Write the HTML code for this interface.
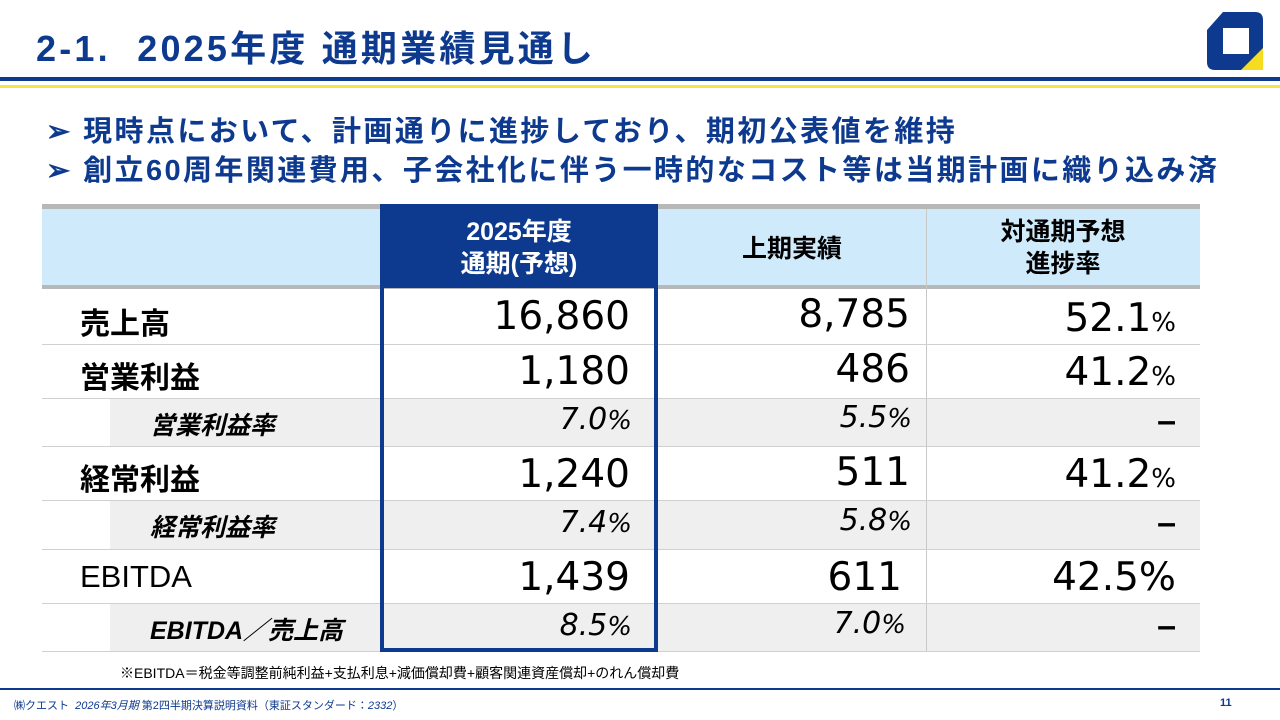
<!DOCTYPE html>
<html><head><meta charset="utf-8"><style>
body{margin:0;width:1280px;height:720px;position:relative;background:#fff;font-family:"Liberation Sans","Noto Sans CJK JP",sans-serif;overflow:hidden}
.a{position:absolute}
.title{left:36px;top:20px;font-size:36px;font-weight:bold;color:#0d3a8e;letter-spacing:3.2px;white-space:nowrap}
.bul{left:46px;font-size:29px;font-weight:bold;color:#0d3a8e;white-space:nowrap;letter-spacing:2.4px}
.hd{font-size:25px;font-weight:bold;text-align:center;line-height:32px}
.lbl{font-size:30px;font-weight:bold;color:#000;left:80px}
.sub{font-size:25px;font-style:italic;font-weight:bold;color:#000;left:150px}
.v{font-family:"DejaVu Sans","Liberation Sans",sans-serif;font-size:39px;color:#000;text-align:right}
.sv{font-family:"DejaVu Sans","Liberation Sans",sans-serif;font-size:30px;font-style:italic;color:#000;text-align:right}
.pc{font-size:26px}
.dash{font-family:"Liberation Sans",sans-serif;font-size:34px;font-weight:bold;text-align:right;color:#000}
.hl{left:42px;width:1158px;height:1px;background:#d0d0d0}
</style></head><body>
<div class="a title">2-1.&nbsp; 2025年度 通期業績見通し</div>
<svg class="a" style="left:1205px;top:10px" width="62" height="62">
<path d="M18 2 H50 Q58 2 58 10 V42 L42 60 H10 Q2 60 2 52 V20 Z" fill="#0d3a8e"/>
<rect x="18" y="18" width="26" height="26" fill="#fff"/>
<path d="M58 38 V60 H36 Z" fill="#f6dc1e"/>
</svg>
<div class="a" style="left:0;top:77px;width:1280px;height:4px;background:#0d3a8e"></div>
<div class="a" style="left:0;top:85px;width:1280px;height:3px;background:#f6e34a"></div>
<div class="a bul" style="top:108px">➢ 現時点において、計画通りに進捗しており、期初公表値を維持</div>
<div class="a bul" style="top:147px">➢ 創立60周年関連費用、子会社化に伴う一時的なコスト等は当期計画に織り込み済</div>

<div>
<div class="a" style="left:42px;top:204px;width:1158px;height:5px;background:#b8b8b8"></div>
<div class="a" style="left:42px;top:209px;width:1158px;height:78px;background:#cfeafb"></div>
<div class="a" style="left:42px;top:285px;width:1158px;height:4px;background:#b8b8b8"></div>
<div class="a" style="left:380px;top:204px;width:278px;height:84px;background:#0d3a8e"></div>
<div class="a hd" style="left:380px;top:216px;width:278px;color:#fff">2025年度<br>通期(予想)</div>
<div class="a hd" style="left:658px;top:233px;width:268px;color:#000">上期実績</div>
<div class="a hd" style="left:926px;top:216px;width:274px;color:#000">対通期予想<br>進捗率</div>

<div class="a" style="left:110px;top:399px;width:1090px;height:47px;background:#efefef"></div>
<div class="a" style="left:110px;top:501px;width:1090px;height:48px;background:#efefef"></div>
<div class="a" style="left:110px;top:604px;width:1090px;height:47px;background:#efefef"></div>
<div class="a" style="left:926px;top:209px;width:1px;height:442px;background:#c8c8c8"></div>
<div class="a hl" style="top:344px"></div>
<div class="a hl" style="top:398px"></div>
<div class="a hl" style="top:446px"></div>
<div class="a hl" style="top:500px"></div>
<div class="a hl" style="top:549px"></div>
<div class="a hl" style="top:603px"></div>
<div class="a hl" style="top:651px"></div>

<div class="a lbl" style="top:299px">売上高</div>
<div class="a lbl" style="top:353px">営業利益</div>
<div class="a sub" style="top:406px">営業利益率</div>
<div class="a lbl" style="top:455px">経常利益</div>
<div class="a sub" style="top:508px">経常利益率</div>
<div class="a lbl" style="top:559px;font-weight:normal;font-size:31px">EBITDA</div>
<div class="a sub" style="top:611px">EBITDA／売上高</div>

<div class="a v" style="left:400px;width:230px;top:294px">16,860</div>
<div class="a v" style="left:400px;width:230px;top:349px">1,180</div>
<div class="a sv" style="left:400px;width:232px;top:402px">7.0<span class="pc">%</span></div>
<div class="a v" style="left:400px;width:230px;top:452px">1,240</div>
<div class="a sv" style="left:400px;width:232px;top:505px">7.4<span class="pc">%</span></div>
<div class="a v" style="left:400px;width:230px;top:555px">1,439</div>
<div class="a sv" style="left:400px;width:232px;top:608px">8.5<span class="pc">%</span></div>

<div class="a v" style="left:670px;width:240px;top:292px">8,785</div>
<div class="a v" style="left:670px;width:240px;top:347px">486</div>
<div class="a sv" style="left:670px;width:242px;top:400px">5.5<span class="pc">%</span></div>
<div class="a v" style="left:670px;width:240px;top:450px">511</div>
<div class="a sv" style="left:670px;width:242px;top:503px">5.8<span class="pc">%</span></div>
<div class="a v" style="left:670px;width:232px;top:555px">611</div>
<div class="a sv" style="left:670px;width:236px;top:606px">7.0<span class="pc">%</span></div>

<div class="a v" style="left:940px;width:236px;top:296px">52.1<span class="pc">%</span></div>
<div class="a v" style="left:940px;width:236px;top:350px">41.2<span class="pc">%</span></div>
<div class="a dash" style="left:940px;width:236px;top:402px">–</div>
<div class="a v" style="left:940px;width:236px;top:452px">41.2<span class="pc">%</span></div>
<div class="a dash" style="left:940px;width:236px;top:504px">–</div>
<div class="a v" style="left:940px;width:236px;top:555px">42.5%</div>
<div class="a dash" style="left:940px;width:236px;top:607px">–</div>

<div class="a" style="left:380px;top:204px;width:270px;height:444px;border:4px solid #0d3a8e;border-top:none"></div>
</div>

<div class="a" style="left:120px;top:663px;font-size:14px;color:#000;white-space:nowrap">※EBITDA＝税金等調整前純利益+支払利息+減価償却費+顧客関連資産償却+のれん償却費</div>
<div class="a" style="left:0;top:688px;width:1280px;height:2px;background:#0d3a8e"></div>
<div class="a" style="left:14px;top:697px;font-size:11px;color:#0d3a8e">㈱クエスト&nbsp; <i>2026年3月期</i> 第2四半期決算説明資料（東証スタンダード：<i>2332</i>）</div>
<div class="a" style="left:1220px;top:697px;font-size:11px;font-weight:bold;color:#0d3a8e">11</div>
</body></html>
